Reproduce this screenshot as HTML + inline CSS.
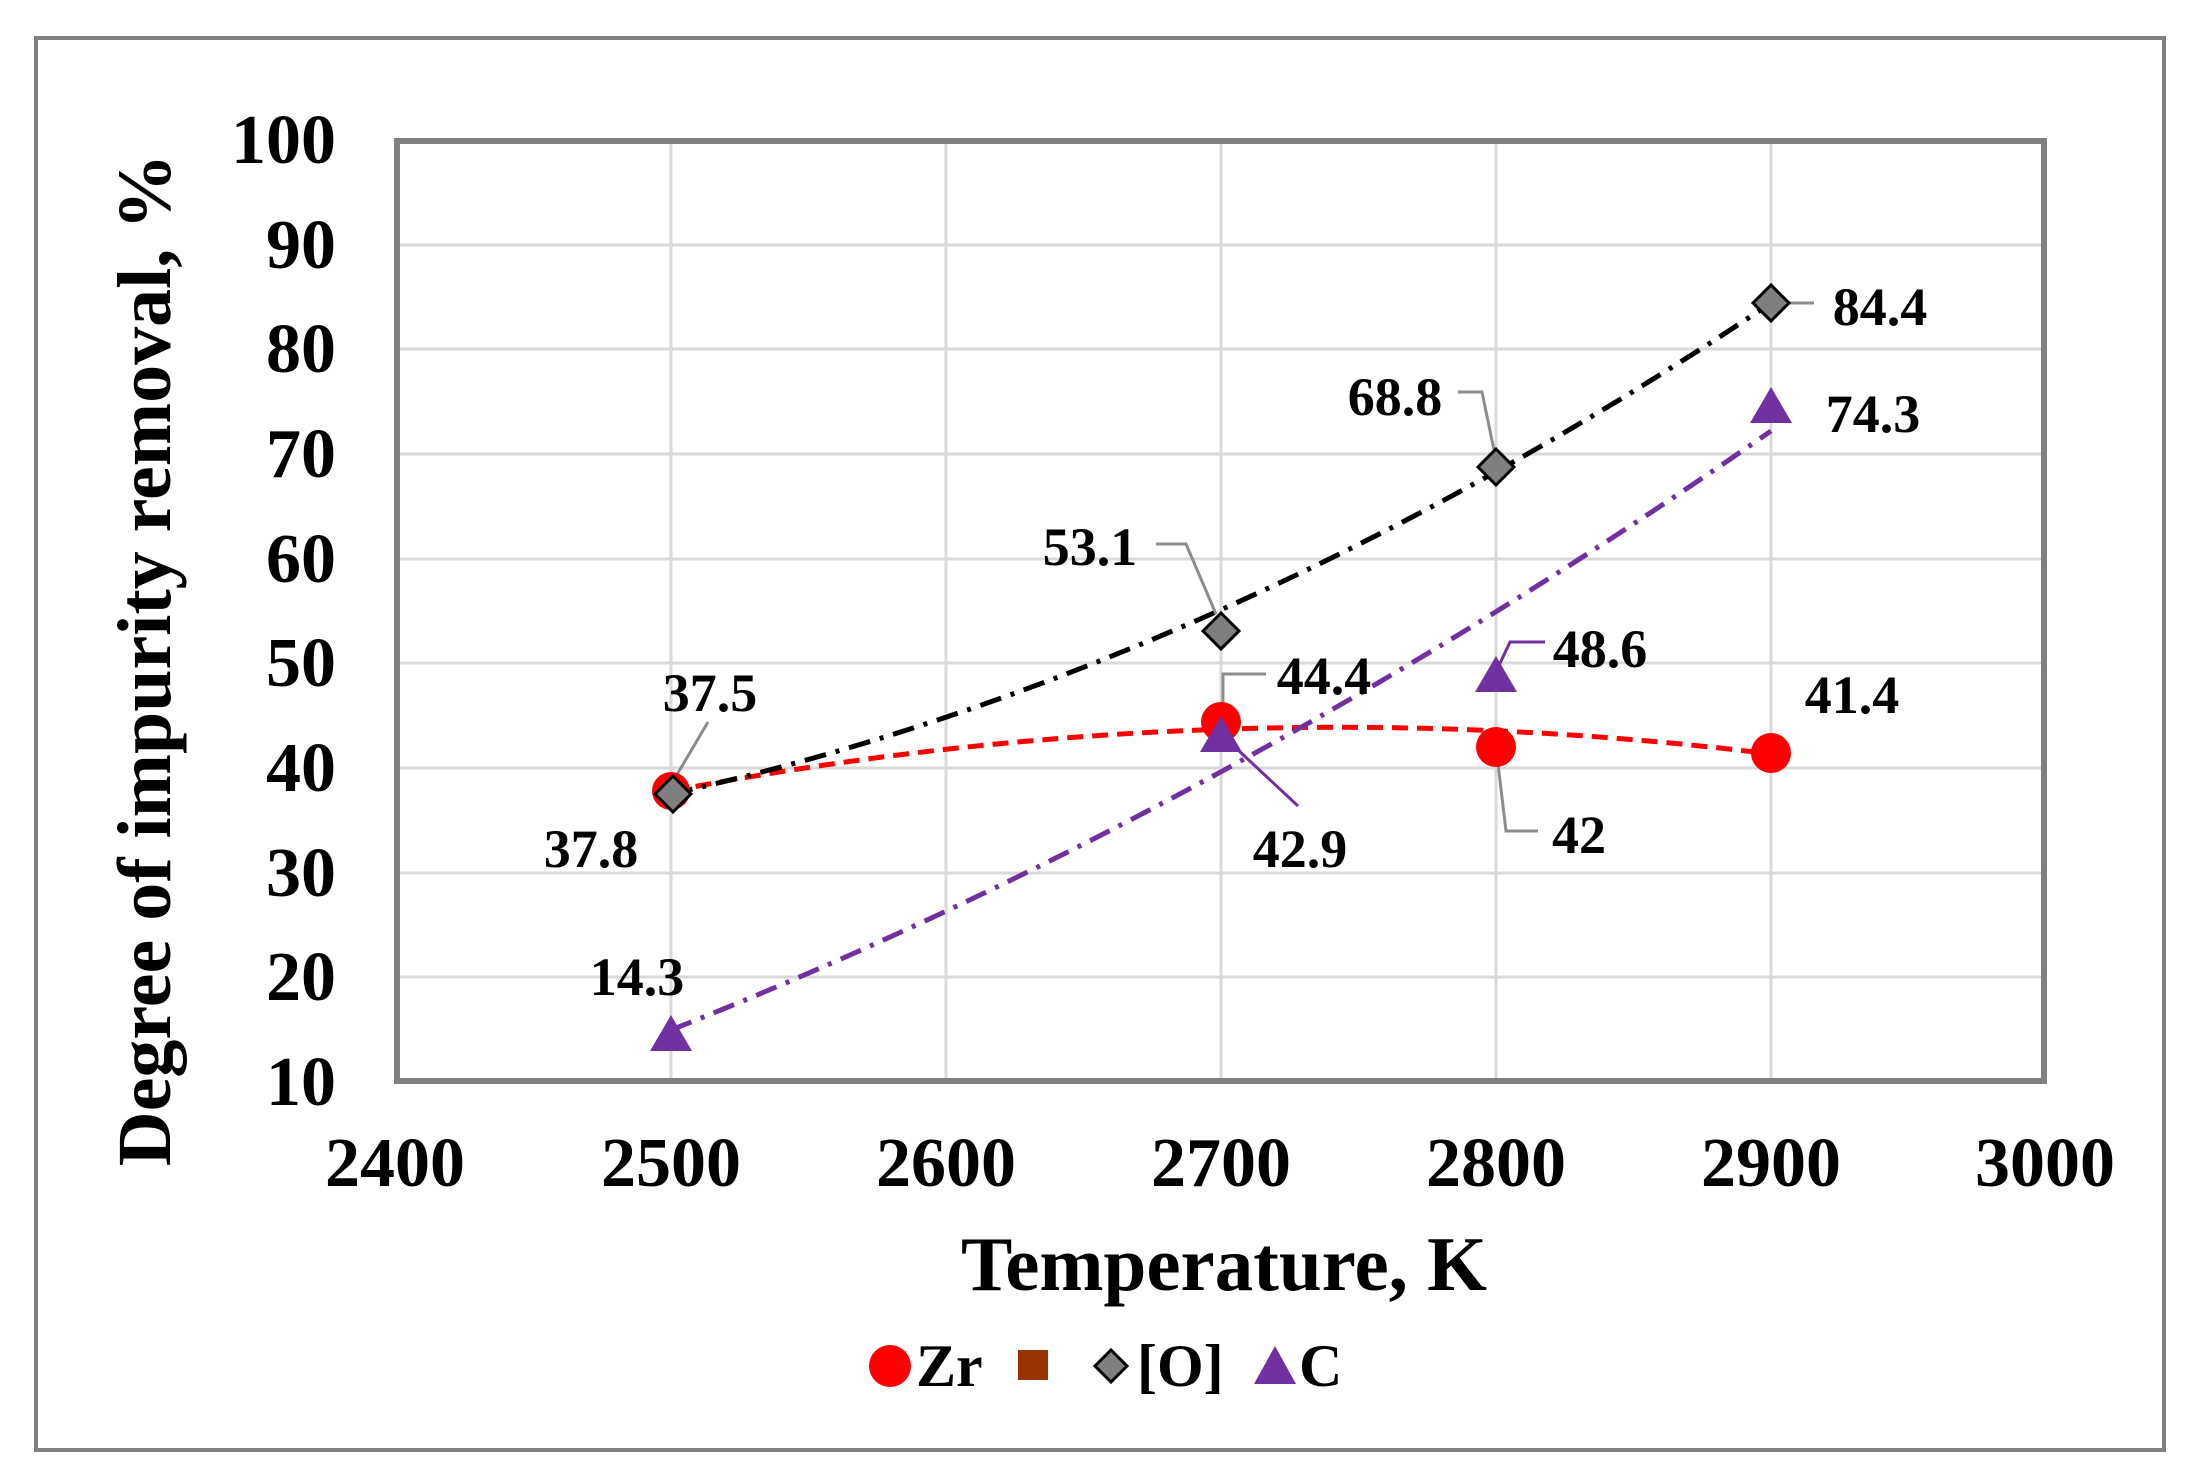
<!DOCTYPE html>
<html><head><meta charset="utf-8"><style>
html,body{margin:0;padding:0;background:#fff}
svg{display:block}
text{font-family:"Liberation Serif",serif;font-weight:bold;fill:#000}
</style></head><body>
<svg width="2186" height="1484" viewBox="0 0 2186 1484" xmlns="http://www.w3.org/2000/svg">
<rect x="36" y="38" width="2128" height="1412" fill="#fff" stroke="#7f7f7f" stroke-width="4"/>
<!-- grid -->
<g stroke="#d9d9d9" stroke-width="3">
<line x1="395" y1="245" x2="2045" y2="245"/><line x1="395" y1="349" x2="2045" y2="349"/>
<line x1="395" y1="454" x2="2045" y2="454"/><line x1="395" y1="559" x2="2045" y2="559"/>
<line x1="395" y1="663" x2="2045" y2="663"/><line x1="395" y1="768" x2="2045" y2="768"/>
<line x1="395" y1="873" x2="2045" y2="873"/><line x1="395" y1="977" x2="2045" y2="977"/>
<line x1="671" y1="140" x2="671" y2="1082"/><line x1="946" y1="140" x2="946" y2="1082"/>
<line x1="1221" y1="140" x2="1221" y2="1082"/><line x1="1496" y1="140" x2="1496" y2="1082"/>
<line x1="1771" y1="140" x2="1771" y2="1082"/>
</g>
<rect x="397" y="141" width="1647" height="940" fill="none" stroke="#7f7f7f" stroke-width="6"/>
<!-- y ticks -->
<g font-size="70" text-anchor="end">
<text x="336" y="163">100</text><text x="336" y="268">90</text><text x="336" y="372">80</text>
<text x="336" y="477">70</text><text x="336" y="582">60</text><text x="336" y="686">50</text>
<text x="336" y="791">40</text><text x="336" y="896">30</text><text x="336" y="1000">20</text>
<text x="336" y="1105">10</text>
</g>
<g font-size="70" text-anchor="middle">
<text x="395" y="1186">2400</text><text x="671" y="1186">2500</text><text x="946" y="1186">2600</text>
<text x="1221" y="1186">2700</text><text x="1496" y="1186">2800</text><text x="1771" y="1186">2900</text>
<text x="2045" y="1186">3000</text>
</g>
<text x="1224" y="1290" font-size="77" text-anchor="middle">Temperature, K</text>
<text transform="translate(170,660) rotate(-90)" font-size="76" text-anchor="middle">Degree of impurity removal, %</text>
<!-- trend lines -->
<path d="M671,791 Q1221,686 1771,754" fill="none" stroke="#ff0000" stroke-width="5" stroke-dasharray="16,9"/>
<path d="M671,794 Q1221,671 1771,303" fill="none" stroke="#000" stroke-width="5" stroke-dasharray="22,10,4,10"/>
<path d="M671,1030 Q1221,813 1771,431" fill="none" stroke="#7030a0" stroke-width="5" stroke-dasharray="22,10,4,10"/>
<!-- leader lines -->
<g fill="none" stroke="#8c8c8c" stroke-width="3">
<polyline points="708,722 675,778"/>
<polyline points="1156,544 1186,544 1216,614"/>
<polyline points="1266,674 1223,674 1223,715"/>
<polyline points="1458,392 1482,392 1495,455"/>
<polyline points="1538,831 1506,831 1498,764"/>
<polyline points="1814,303 1789,303"/>
</g>
<g fill="none" stroke="#7030a0" stroke-width="3">
<polyline points="1298,806 1238,750"/>
<polyline points="1545,642 1510,642 1496,672"/>
</g>
<!-- markers Zr -->
<g fill="#ff0000">
<circle cx="671" cy="791" r="19"/><circle cx="1221" cy="722" r="20"/>
<circle cx="1496" cy="747" r="20"/><circle cx="1771" cy="753" r="20"/>
</g>
<!-- O -->
<g fill="#7f7f7f" stroke="#000" stroke-width="3">
<path d="M673,776 L691,794 L673,812 L655,794Z"/>
<path d="M1221,613 L1239,631 L1221,649 L1203,631Z"/>
<path d="M1496,449 L1514,467 L1496,485 L1478,467Z"/>
<path d="M1771,285 L1789,303 L1771,321 L1753,303Z"/>
</g>
<!-- C -->
<g fill="#7030a0">
<path d="M671,1015 L692,1051 L650,1051Z"/>
<path d="M1221,716 L1242,752 L1200,752Z"/>
<path d="M1496,656 L1517,692 L1475,692Z"/>
<path d="M1771,387 L1792,423 L1750,423Z"/>
</g>
<!-- data labels -->
<g font-size="54" text-anchor="middle">
<text x="710" y="711">37.5</text><text x="591" y="867">37.8</text><text x="637" y="995">14.3</text>
<text x="1090" y="565">53.1</text><text x="1324" y="694">44.4</text><text x="1300" y="867">42.9</text>
<text x="1395" y="415">68.8</text><text x="1600" y="667">48.6</text><text x="1579" y="853">42</text>
<text x="1880" y="325">84.4</text><text x="1873" y="432">74.3</text><text x="1852" y="713">41.4</text>
</g>
<!-- legend -->
<circle cx="890" cy="1366" r="21" fill="#ff0000"/>
<text x="916" y="1386" font-size="60">Zr</text>
<rect x="1018" y="1350" width="30" height="30" fill="#993300"/>
<path d="M1111,1350 L1127,1366 L1111,1382 L1095,1366Z" fill="#7f7f7f" stroke="#000" stroke-width="3"/>
<text x="1137" y="1386" font-size="60">[O]</text>
<path d="M1275,1346 L1296,1384 L1254,1384Z" fill="#7030a0"/>
<text x="1299" y="1386" font-size="60">C</text>
</svg>
</body></html>
